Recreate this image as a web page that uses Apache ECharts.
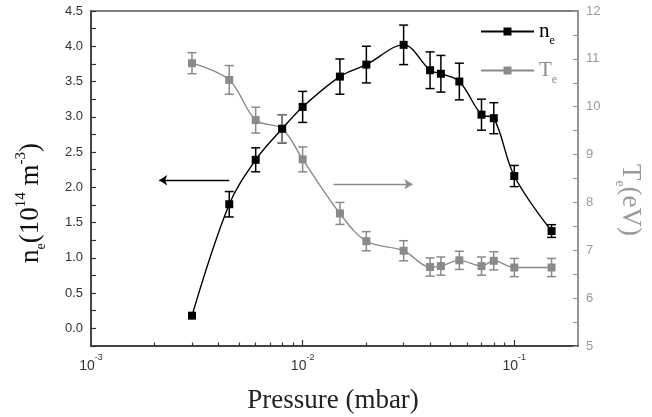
<!DOCTYPE html>
<html>
<head>
<meta charset="utf-8">
<script src="https://cdn.jsdelivr.net/npm/echarts@6/dist/echarts.min.js"></script>
<style>html,body{margin:0;padding:0;background:#fff}#c{width:652px;height:417px}</style>
</head>
<body>
<div id="c"></div>
<script>
// ---- data ----
const pressure = [0.003, 0.0045, 0.006, 0.008, 0.01, 0.015, 0.02, 0.03, 0.04, 0.045, 0.055, 0.07, 0.08, 0.1, 0.15];
const ne    = [0.18, 1.76, 2.39, 2.83, 3.14, 3.57, 3.74, 4.02, 3.66, 3.61, 3.50, 3.03, 2.98, 2.16, 1.38];
const neErr = [0, 0.18, 0.17, 0.20, 0.22, 0.25, 0.26, 0.28, 0.26, 0.26, 0.26, 0.22, 0.22, 0.15, 0.09];
const Te    = [10.91, 10.56, 9.72, 9.54, 8.90, 7.77, 7.19, 6.99, 6.65, 6.67, 6.79, 6.67, 6.78, 6.64, 6.64];
const TeErr = [0.22, 0.30, 0.27, 0.29, 0.26, 0.23, 0.20, 0.21, 0.19, 0.19, 0.19, 0.19, 0.19, 0.19, 0.19];
const xLabelValues = [0.001, 0.01, 0.1];
const xMajorTicks = [0.01, 0.1];
const xMinorTicks = [0.002,0.003,0.004,0.005,0.006,0.007,0.008,0.009,0.02,0.03,0.04,0.05,0.06,0.07,0.08,0.09];
const neArrow = [[0.0045, 2.1], [0.0021, 2.1]];
const TeArrow = [[0.014, 8.38], [0.033, 8.38]];

const BLACK = '#000000';
const GRAY = '#8a8a8a';
const SERIF = 'Liberation Serif';
const SANS = 'Liberation Sans';

function errSeries(name, vals, errs, yIdx, color) {
  return {
    type: 'custom', name: name, yAxisIndex: yIdx, silent: true, z: 3,
    encode: {x: 0, y: 1},
    data: pressure.map((p, i) => [p, vals[i], errs[i]]),
    renderItem: function (params, api) {
      const x = api.value(0), y = api.value(1), e = api.value(2);
      if (!e) return null;
      const t = api.coord([x, y + e]);
      const b = api.coord([x, y - e]);
      const w = 4.5;
      const st = {stroke: color, lineWidth: 1.5};
      return {type: 'group', children: [
        {type: 'line', shape: {x1: t[0], y1: t[1], x2: b[0], y2: b[1]}, style: st},
        {type: 'line', shape: {x1: t[0] - w, y1: t[1], x2: t[0] + w, y2: t[1]}, style: st},
        {type: 'line', shape: {x1: b[0] - w, y1: b[1], x2: b[0] + w, y2: b[1]}, style: st}
      ]};
    }
  };
}

const chart = echarts.init(document.getElementById('c'), null, {renderer: 'canvas'});
const option = {
  animation: false,
  backgroundColor: '#fff',
  grid: {left: 91, right: 74, top: 11, bottom: 71, show: true, borderColor: '#555', borderWidth: 1.5, backgroundColor: 'transparent'},
  legend: [
    {data: ['ne'], left: 480, top: 21, padding: 0, itemWidth: 53, itemHeight: 10, itemGap: 4, selectedMode: false,
     formatter: () => '{n|n}{s|e}',
     textStyle: {color: BLACK, rich: {
       n: {fontFamily: SERIF, fontSize: 21, lineHeight: 30, verticalAlign: 'middle', color: BLACK},
       s: {fontFamily: SERIF, fontSize: 12, lineHeight: 12, verticalAlign: 'bottom', color: BLACK}}}},
    {data: ['Te'], left: 480, top: 60, padding: 0, itemWidth: 53, itemHeight: 10, itemGap: 4, selectedMode: false,
     formatter: () => '{n|T}{s|e}',
     textStyle: {color: GRAY, rich: {
       n: {fontFamily: SERIF, fontSize: 21, lineHeight: 30, verticalAlign: 'middle', color: GRAY},
       s: {fontFamily: SERIF, fontSize: 12, lineHeight: 12, verticalAlign: 'bottom', color: GRAY}}}}
  ],
  xAxis: [
    {type: 'log', logBase: 10, min: 0.001, max: 0.2, position: 'bottom',
     axisLine: {show: true, onZero: false, lineStyle: {color: '#333', width: 1.5}},
     axisTick: {show: true, inside: true, length: 6, customValues: xMajorTicks, lineStyle: {color: '#333', width: 1.2}},
     axisLabel: {show: true, customValues: xLabelValues, margin: 7,
       formatter: v => '{b|10}{s|' + Math.round(Math.log10(v)) + '}',
       rich: {
         b: {fontFamily: SANS, fontSize: 14, lineHeight: 20, verticalAlign: 'bottom', color: '#333'},
         s: {fontFamily: SANS, fontSize: 9, lineHeight: 9, verticalAlign: 'top', color: '#333'}}},
     splitLine: {show: false}},
    {type: 'log', logBase: 10, min: 0.001, max: 0.2, position: 'bottom',
     axisLine: {show: false, onZero: false},
     axisTick: {show: true, inside: true, length: 3.5, customValues: xMinorTicks, lineStyle: {color: '#333', width: 1.2}},
     axisLabel: {show: false}, splitLine: {show: false}}
  ],
  yAxis: [
    {type: 'value', min: -0.25, max: 4.5, interval: 0.25, position: 'left',
     axisLine: {show: true, onZero: false, lineStyle: {color: '#333', width: 1.5}},
     axisTick: {show: true, inside: true, length: 5, lineStyle: {color: '#333', width: 1.2}},
     axisLabel: {fontFamily: SANS, fontSize: 13, color: '#333', margin: 8,
       formatter: v => (v >= 0 && Math.abs(v * 2 - Math.round(v * 2)) < 1e-6) ? v.toFixed(1) : ''},
     splitLine: {show: false}},
    {type: 'value', min: 5, max: 12, interval: 0.5, position: 'right',
     axisLine: {show: true, onZero: false, lineStyle: {color: '#999', width: 1.5}},
     axisTick: {show: true, inside: true, length: 5, lineStyle: {color: '#999', width: 1.2}},
     axisLabel: {fontFamily: SANS, fontSize: 13, color: '#999', margin: 8,
       formatter: v => Number.isInteger(v) ? String(v) : ''},
     splitLine: {show: false}}
  ],
  series: [
    {name: 'ne', type: 'line', xAxisIndex: 0, yAxisIndex: 0, smooth: 0.35, z: 5,
     data: pressure.map((p, i) => [p, ne[i]]),
     symbol: 'rect', symbolSize: 8, color: BLACK,
     itemStyle: {color: BLACK}, lineStyle: {color: BLACK, width: 1.4},
     markLine: {silent: true, symbol: ['none', 'arrow'], symbolSize: 8, animation: false,
       label: {show: false}, lineStyle: {color: BLACK, width: 1.4, type: 'solid'},
       itemStyle: {color: BLACK},
       data: [[{coord: neArrow[0]}, {coord: neArrow[1]}]]}},
    {name: 'Te', type: 'line', xAxisIndex: 0, yAxisIndex: 1, smooth: 0.35, z: 4,
     data: pressure.map((p, i) => [p, Te[i]]),
     symbol: 'rect', symbolSize: 8, color: GRAY,
     itemStyle: {color: GRAY}, lineStyle: {color: GRAY, width: 1.4},
     markLine: {silent: true, symbol: ['none', 'arrow'], symbolSize: 8, animation: false,
       label: {show: false}, lineStyle: {color: GRAY, width: 1.4, type: 'solid'},
       itemStyle: {color: GRAY},
       data: [[{coord: TeArrow[0]}, {coord: TeArrow[1]}]]}},
    errSeries('neErr', ne, neErr, 0, BLACK),
    errSeries('TeErr', Te, TeErr, 1, GRAY)
  ],
  graphic: [
    {type: 'text', x: 31, y: 203, rotation: Math.PI / 2, silent: true,
     style: {text: '{b|n}{s|e}{b|(10}{p|14}{b| m}{p|-3}{b|)}', align: 'center', verticalAlign: 'middle',
       rich: {
         b: {fontFamily: SERIF, fontSize: 27, lineHeight: 34, verticalAlign: 'middle', fill: '#111'},
         s: {fontFamily: SERIF, fontSize: 14, lineHeight: 14, verticalAlign: 'bottom', fill: '#111'},
         p: {fontFamily: SERIF, fontSize: 15, lineHeight: 15, verticalAlign: 'top', fill: '#111'}}}},
    {type: 'text', x: 630, y: 200, rotation: -Math.PI / 2, silent: true,
     style: {text: '{b|T}{s|e}{b|(eV)}', align: 'center', verticalAlign: 'middle',
       rich: {
         b: {fontFamily: SERIF, fontSize: 27, lineHeight: 34, verticalAlign: 'middle', fill: '#999'},
         s: {fontFamily: SERIF, fontSize: 14, lineHeight: 14, verticalAlign: 'bottom', fill: '#999'}}}},
    {type: 'text', x: 333, y: 401, silent: true,
     style: {text: 'Pressure (mbar)', align: 'center', verticalAlign: 'middle',
       fontFamily: SERIF, fontSize: 27, fill: '#222'}}
  ]
};
chart.setOption(option);
</script>
</body>
</html>
